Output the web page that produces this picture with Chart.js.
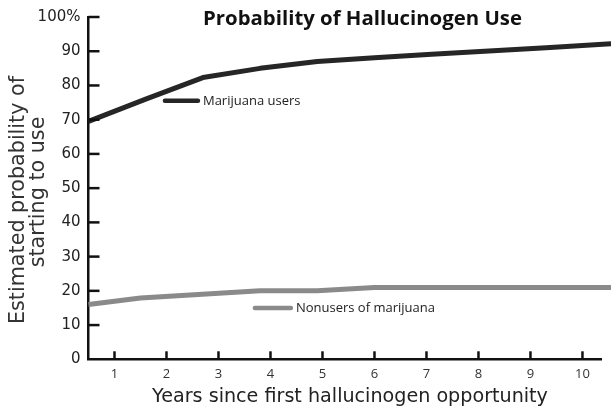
<!DOCTYPE html>
<html><head><meta charset="utf-8">
<script src="https://cdn.jsdelivr.net/npm/chart.js@4"></script>
<style>html,body{margin:0;padding:0;background:#fff}#wrap{width:611px;height:410px;position:relative}</style>
</head><body><div id="wrap"><canvas id="c"></canvas></div>
<script>
const chartTitle = 'Probability of Hallucinogen Use';
const xAxisTitle = 'Years since first hallucinogen opportunity';
const yAxisTitleLines = ['Estimated probability of', 'starting to use'];
const seriesNames = ['Marijuana users', 'Nonusers of marijuana'];
const xTickValues = [1, 2, 3, 4, 5, 6, 7, 8, 9, 10];
const yTickValues = [0, 10, 20, 30, 40, 50, 60, 70, 80, 90, 100];
const marijuanaYears = [0.5, 1.6, 2.7, 3.8, 4.9, 6.0, 7.1, 8.2, 9.3, 10.55];
const marijuanaValues = [69.5, 76, 82.3, 85, 87, 88.1, 89.1, 90.1, 91, 92.2];
const nonuserYears = [0.5, 1.5, 3.8, 4.9, 6.0, 10.55];
const nonuserValues = [16, 17.9, 20, 20, 21, 21];

const colors = ['#262626', '#8a8a8a'];
const toPoints = (xs, ys) => xs.map((x, i) => ({x: x, y: ys[i]}));

function fitFont(ctx, text, weight, family, targetWidth) {
  ctx.font = weight + ' 20px ' + family;
  const w = ctx.measureText(text).width;
  const size = 20 * targetWidth / w;
  return weight + ' ' + size.toFixed(2) + 'px ' + family;
}

const decor = {
  id: 'decor',
  afterDatasetsDraw(chart, args, opts) {
    const ctx = chart.ctx, xs = chart.scales.x, ys = chart.scales.y;
    const area = chart.chartArea;
    ctx.save();
    // inward tick marks
    ctx.strokeStyle = '#111';
    ctx.lineWidth = 2.5;
    ctx.lineCap = 'butt';
    yTickValues.forEach(v => {
      if (v === 0) return;
      const y = ys.getPixelForValue(v);
      ctx.beginPath(); ctx.moveTo(area.left, y); ctx.lineTo(area.left + 11, y); ctx.stroke();
    });
    xTickValues.forEach(v => {
      const x = xs.getPixelForValue(v);
      ctx.beginPath(); ctx.moveTo(x, area.bottom); ctx.lineTo(x, area.bottom - 8); ctx.stroke();
    });
    // in-plot legend labels
    opts.labels.forEach((l, i) => {
      const x0 = xs.getPixelForValue(l.x), y0 = ys.getPixelForValue(l.y);
      ctx.strokeStyle = colors[i];
      ctx.lineWidth = 4.5;
      ctx.lineCap = 'round';
      ctx.beginPath(); ctx.moveTo(x0, y0); ctx.lineTo(x0 + l.len, y0); ctx.stroke();
      ctx.fillStyle = '#222';
      ctx.font = '13px "Open Sans"';
      ctx.textAlign = 'left';
      ctx.textBaseline = 'middle';
      ctx.fillText(seriesNames[i], x0 + l.len + 5, y0);
    });
    ctx.textAlign = 'center';
    ctx.textBaseline = 'middle';
    // title
    ctx.fillStyle = '#111';
    ctx.font = fitFont(ctx, chartTitle, 'bold', '"Open Sans"', opts.titleW);
    ctx.fillText(chartTitle, opts.titleX, opts.titleY);
    // x axis title
    ctx.fillStyle = '#222';
    ctx.font = fitFont(ctx, xAxisTitle, 'normal', '"DejaVu Sans"', opts.xTitleW);
    ctx.fillText(xAxisTitle, opts.xTitleX, opts.xTitleY);
    // y axis title
    ctx.fillStyle = '#333';
    ctx.font = fitFont(ctx, yAxisTitleLines[0], 'normal', '"DejaVu Sans"', opts.yTitleW);
    opts.yTitle.forEach((p, i) => {
      ctx.save();
      ctx.translate(p.x, p.y);
      ctx.rotate(-Math.PI / 2);
      ctx.fillText(yAxisTitleLines[i], 0, 0);
      ctx.restore();
    });
    ctx.restore();
  }
};

new Chart(document.getElementById('c'), {
  type: 'line',
  data: {
    datasets: [
      {label: seriesNames[0], data: toPoints(marijuanaYears, marijuanaValues), borderColor: colors[0], borderWidth: 5, pointRadius: 0, tension: 0, borderJoinStyle: 'round', clip: {left: 2, top: 5, right: 12, bottom: 5}},
      {label: seriesNames[1], data: toPoints(nonuserYears, nonuserValues), borderColor: colors[1], borderWidth: 5, pointRadius: 0, tension: 0, borderJoinStyle: 'round', clip: {left: 2, top: 5, right: 12, bottom: 5}}
    ]
  },
  options: {
    responsive: true,
    maintainAspectRatio: false,
    animation: false,
    events: [],
    layout: {padding: {left: 0, right: 9.3, top: 15, bottom: 0}},
    plugins: {
      legend: {display: false},
      tooltip: {enabled: false},
      title: {display: false},
      decor: {
        labels: [{x: 1.97, y: 75.5, len: 33}, {x: 3.7, y: 15.0, len: 36}],
        titleX: 362.5, titleY: 19, titleW: 319,
        xTitleX: 350, xTitleY: 397, xTitleW: 396,
        yTitleW: 248,
        yTitle: [{x: 19, y: 200}, {x: 39, y: 192}]
      }
    },
    scales: {
      x: {
        type: 'linear', min: 0.5, max: 10.37,
        afterFit: s => { s.height = 50.7; },
        afterBuildTicks: s => { s.ticks = xTickValues.map(v => ({value: v})); },
        grid: {display: false, drawTicks: false},
        border: {display: true, color: '#111', width: 2.5},
        ticks: {padding: 7, color: '#333', font: {family: 'Open Sans', size: 13}, maxRotation: 0, autoSkip: false}
      },
      y: {
        type: 'linear', min: 0, max: 100,
        afterFit: s => { s.width = 88.5; },
        afterBuildTicks: s => { s.ticks = yTickValues.map(v => ({value: v})); },
        grid: {display: false, drawTicks: false},
        border: {display: true, color: '#111', width: 2.5},
        ticks: {padding: 8, color: '#222', font: {family: 'DejaVu Sans', size: 15}, callback: v => v === 100 ? '100%' : String(v)}
      }
    }
  },
  plugins: [decor]
});
</script>
</body></html>
